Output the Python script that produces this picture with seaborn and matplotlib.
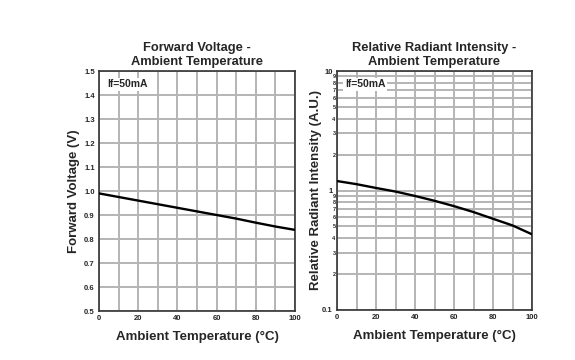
import numpy as np
import pandas as pd
import seaborn as sns
import matplotlib.pyplot as plt
from matplotlib.ticker import FixedLocator, FixedFormatter

temp = [0, 10, 20, 30, 40, 50, 60, 70, 80, 90, 100]
vf = [0.99, 0.975, 0.96, 0.945, 0.93, 0.915, 0.90, 0.885, 0.868, 0.852, 0.838]
rel_int = [1.20, 1.13, 1.05, 0.98, 0.90, 0.82, 0.74, 0.66, 0.58, 0.51, 0.43]

sns.set_style('white')
plt.rcParams['font.family'] = ['Liberation Sans', 'DejaVu Sans']
plt.rcParams['font.weight'] = 'bold'

fig = plt.figure(figsize=(5.75, 3.6), dpi=100)
ax1 = fig.add_axes([99/575, 1 - 311/360, 196/575, 240/360])
ax2 = fig.add_axes([337/575, 1 - 310/360, 195/575, 239/360])

grid_c = '#b4b4b4'
df1 = pd.DataFrame({'t': temp, 'v': vf})
df2 = pd.DataFrame({'t': temp, 'i': rel_int})

sns.lineplot(data=df1, x='t', y='v', ax=ax1, color='black', lw=1.7, zorder=3)
sns.lineplot(data=df2, x='t', y='i', ax=ax2, color='black', lw=1.7, zorder=3)

# left chart
ax1.set_xlim(0, 100)
ax1.set_ylim(0.5, 1.5)
ax1.set_xticks(np.arange(0, 101, 20))
ax1.set_xticks(np.arange(0, 101, 10), minor=True)
ax1.set_yticks(np.round(np.arange(0.5, 1.51, 0.1), 1))
ax1.set_yticklabels([f'{v:.1f}' for v in np.arange(0.5, 1.51, 0.1)])
ax1.grid(which='both', color=grid_c, lw=1.4)
ax1.set_title('Forward Voltage -\nAmbient Temperature', fontsize=9.3, fontweight='bold', pad=4, linespacing=1.25)
ax1.set_ylabel('Forward Voltage (V)', fontsize=9.5, fontweight='bold', labelpad=3)

# right chart
ax2.set_yscale('log')
ax2.set_xlim(0, 100)
ax2.set_ylim(0.1, 10)
ax2.set_xticks(np.arange(0, 101, 20))
ax2.set_xticks(np.arange(0, 101, 10), minor=True)
ax2.yaxis.set_major_locator(FixedLocator([0.1, 1, 10]))
ax2.yaxis.set_major_formatter(FixedFormatter(['0.1', '1', '10']))
minors = [m * d for d in (0.1, 1) for m in range(2, 10)]
ax2.yaxis.set_minor_locator(FixedLocator(minors))
ax2.yaxis.set_minor_formatter(FixedFormatter([str(int(round(m / (0.1 if m < 1 else 1)))) for m in minors]))
ax2.tick_params(axis='y', which='minor', labelsize=4, pad=1)
ax2.grid(which='both', color=grid_c, lw=1.4)
ax2.set_title('Relative Radiant Intensity -\nAmbient Temperature', fontsize=9.3, fontweight='bold', pad=4, linespacing=1.25)
ax2.set_ylabel('Relative Radiant Intensity (A.U.)', fontsize=9.5, fontweight='bold', labelpad=0)

for ax in (ax1, ax2):
    ax.set_xlabel('Ambient Temperature (°C)', fontsize=9.5, fontweight='bold', labelpad=6)
    ax.tick_params(axis='both', which='major', labelsize=5.5, length=0, pad=3)
    ax.tick_params(axis='both', which='minor', length=0)
    for s in ax.spines.values():
        s.set_color('#333333')
        s.set_linewidth(1.2)
    ax.text(0.04, 0.965, 'If=50mA', transform=ax.transAxes, fontsize=7.5, fontweight='bold',
            va='top', ha='left', bbox=dict(facecolor='white', edgecolor='none', pad=1), zorder=4)

fig.savefig('out.png', dpi=100)
